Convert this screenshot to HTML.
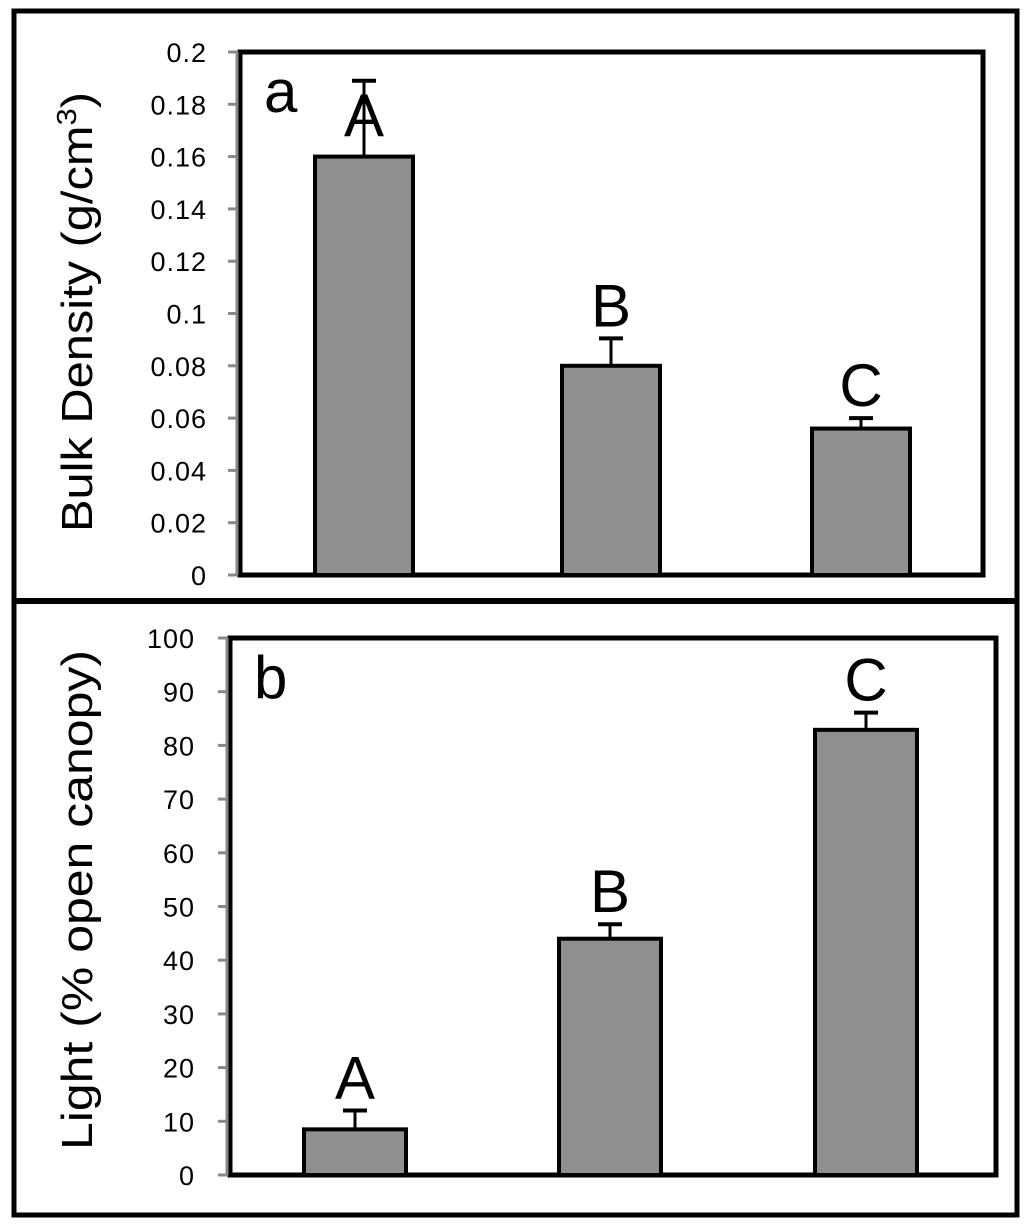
<!DOCTYPE html>
<html><head><style>
body{margin:0;background:#fff;}
svg text{font-family:"Liberation Sans",sans-serif;}
</style></head><body>
<svg width="1024" height="1227" xmlns="http://www.w3.org/2000/svg">
<rect x="0" y="0" width="1024" height="1227" fill="#fff"/>
<rect x="14" y="11" width="1003" height="1204" fill="none" stroke="#000" stroke-width="5"/>
<line x1="14" y1="601" x2="1017" y2="601" stroke="#000" stroke-width="6"/>
<g id="g"></g>
</svg>
<script>
const catsA=["1","2","3"];
const valsA=[0.16,0.08,0.056];
const errA=[0.029,0.0105,0.004];
const lettersA=["A","B","C"];
const ticksA=["0","0.02","0.04","0.06","0.08","0.1","0.12","0.14","0.16","0.18","0.2"];
const catsB=["1","2","3"];
const valsB=[8.5,44,82.9];
const errB=[3.5,2.7,3.2];
const lettersB=["A","B","C"];
const ticksB=["0","10","20","30","40","50","60","70","80","90","100"];
const NS="http://www.w3.org/2000/svg";
const g=document.getElementById('g');
function mk(t,a,p){const e=document.createElementNS(NS,t);for(const k in a)e.setAttribute(k,a[k]);(p||g).appendChild(e);return e;}
function panel(o){
 const grp=mk('g',{});
 
 
 const y=v=>o.y0-(v/o.max)*(o.y0-o.y1);
 const fr=mk('rect',{x:o.x0,y:o.y1,width:o.x2-o.x0,height:o.y0-o.y1,fill:'none',stroke:'#000','stroke-width':5},grp);
 
 
 const ax=mk('line',{x1:o.x0-3,y1:o.y1,x2:o.x0-3,y2:o.y0,stroke:'#888','stroke-width':3},grp);
 
 
 o.ticks.forEach(t=>{
  const v=parseFloat(t),yy=y(v);
  const tk=mk('line',{x1:o.x0-12,y1:yy,x2:o.x0-3,y2:yy,stroke:'#888','stroke-width':3},grp);
  
  
  const tl=mk('text',{x:o.x0-o.lgap,y:yy+10,'text-anchor':'end','font-size':27,'letter-spacing':1,fill:'#000'},grp);
  tl.textContent=t;
  
  
 });
 o.vals.forEach((v,i)=>{
  const cx=o.cx[i],w=o.bw;
  const b=mk('rect',{x:cx-w/2,y:y(v),width:w,height:o.y0-y(v),fill:'#8f8f8f',stroke:'#000','stroke-width':4},grp);
  
  
  const et=y(v+o.err[i]);
  const e1=mk('line',{x1:cx,y1:y(v),x2:cx,y2:et,stroke:'#000','stroke-width':3},grp);
  
  
  const e2=mk('line',{x1:cx-12,y1:et,x2:cx+12,y2:et,stroke:'#000','stroke-width':4},grp);
  
  
  const lt=mk('text',{x:cx,y:et-12+o.loff[i],'text-anchor':'middle','font-size':60,fill:'#000'},grp);
  lt.textContent=o.letters[i];
  
  
 });
 const pl=mk('text',{x:o.x0+24,y:o.y1+60,'font-size':60,fill:'#000'},grp);
 pl.textContent=o.plabel;
 
 
 const yt=mk('text',{x:0,y:0,'text-anchor':'middle','font-size':44,fill:'#000',textLength:o.tlen,lengthAdjust:'spacingAndGlyphs',transform:`translate(92,${o.tc}) rotate(-90)`},grp);
 yt.innerHTML=o.title;
 
 
}
panel({name:'panel-a',x0:240,x2:983,y0:575,y1:52,max:0.2,lgap:33,ticks:ticksA,vals:valsA,err:errA,cats:catsA,letters:lettersA,cx:[364,611,861],bw:98,loff:[67,0,0],plabel:'a',tc:312,tlen:440,title:'Bulk Density (g/cm<tspan dy="-16" font-size="28">3</tspan><tspan dy="16">)</tspan>'});
panel({name:'panel-b',x0:230,x2:996,y0:1175,y1:638,max:100,lgap:35,ticks:ticksB,vals:valsB,err:errB,cats:catsB,letters:lettersB,cx:[355,610,866],bw:102,loff:[0,0,0],plabel:'b',tc:900,tlen:500,title:'Light (% open canopy)'});
</script>
</body></html>
